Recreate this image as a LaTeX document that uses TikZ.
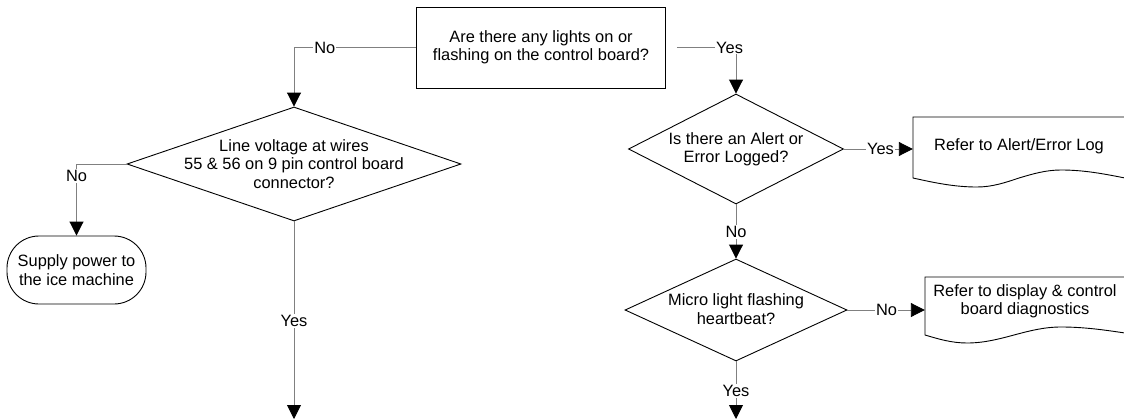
\documentclass[tikz,border=0pt]{standalone}
\usepackage{fontspec}
\setmainfont{Liberation Sans}
\usetikzlibrary{shapes.geometric,arrows.meta}
\definecolor{wire}{RGB}{128,128,128}
\begin{document}
\begin{tikzpicture}[x=1pt,y=-1pt,
  every node/.style={font=\fontsize{16.4}{18.4}\selectfont},
  outline/.style={draw=black,line width=0.9pt},
  decision/.style={diamond,outline,inner sep=0pt},
  txt/.style={align=center,inner sep=0pt},
  flow/.style={draw=wire,line width=0.9pt,-{Triangle[length=14pt,width=14pt,color=black]}},
  lbl/.style={fill=white,inner sep=1pt,text=black}]
\useasboundingbox (0,0) rectangle (1124,420);

% question box at the top
\node[rectangle,outline,align=center,minimum width=249,minimum height=81] (q) at (541,47.5)
  {Are there any lights on or\\flashing on the control board?};

% left branch
\node[decision,minimum width=334,minimum height=114] (d1) at (294,164) {};
\node[txt] (d1t) at (294,164) {Line voltage at wires\\55 \& 56 on 9 pin control board\\connector?};
\node[rectangle,outline,rounded corners=32pt,align=center,minimum width=139,minimum height=68] (term) at (76.5,270)
  {Supply power to\\the ice machine};
\coordinate (endL) at (294,419);

% right branch
\node[decision,minimum width=215,minimum height=110] (d2) at (736,149) {};
\node[txt] (d2t) at (736,149.5) {Is there an Alert or\\Error Logged?};
\node[decision,minimum width=222,minimum height=102] (d3) at (736,310) {};
\node[txt] (d3t) at (736,309) {Micro light flashing\\heartbeat?};
\coordinate (endR) at (736,419);

% document shapes with wavy bottom edges
\node[txt,minimum width=212] (doc1) at (1019,146) {Refer to Alert/Error Log};
\draw[outline] (913,178) -- (913,117) -- (1125,117) -- (1125,178)
  sin (1061,170) cos (1019,178) sin (977,187) cos (913,178) -- cycle;
\node[txt,minimum width=200] (doc2) at (1025,301) {Refer to display \& control\\board diagnostics};
\draw[outline] (925,335) -- (925,277) -- (1125,277) -- (1125,333)
  sin (1061,327) cos (1014,335) sin (967,343) cos (925,335) -- cycle;

% connectors
\draw[flow] (q.west) -| node[lbl,pos=0.374] {No} (d1.north);
\draw[flow,shorten <=11pt] (q.east) -| node[lbl,pos=0.454] {Yes} (d2.north);
\draw[flow] (d1.west) -| node[lbl,pos=0.583] {No} (term.north);
\draw[flow] (d1.south) -- node[lbl,pos=0.505] {Yes} (endL);
\draw[flow] (d2.east) -- node[lbl,pos=0.53] {Yes} (d2.east -| doc1.west);
\draw[flow] (d2.south) -- node[lbl,pos=0.51] {No} (d3.north);
\draw[flow] (d3.east) -- node[lbl,pos=0.506] {No} (d3.east -| doc2.west);
\draw[flow] (d3.south) -- node[lbl,pos=0.517] {Yes} (endR);
\end{tikzpicture}
\end{document}
